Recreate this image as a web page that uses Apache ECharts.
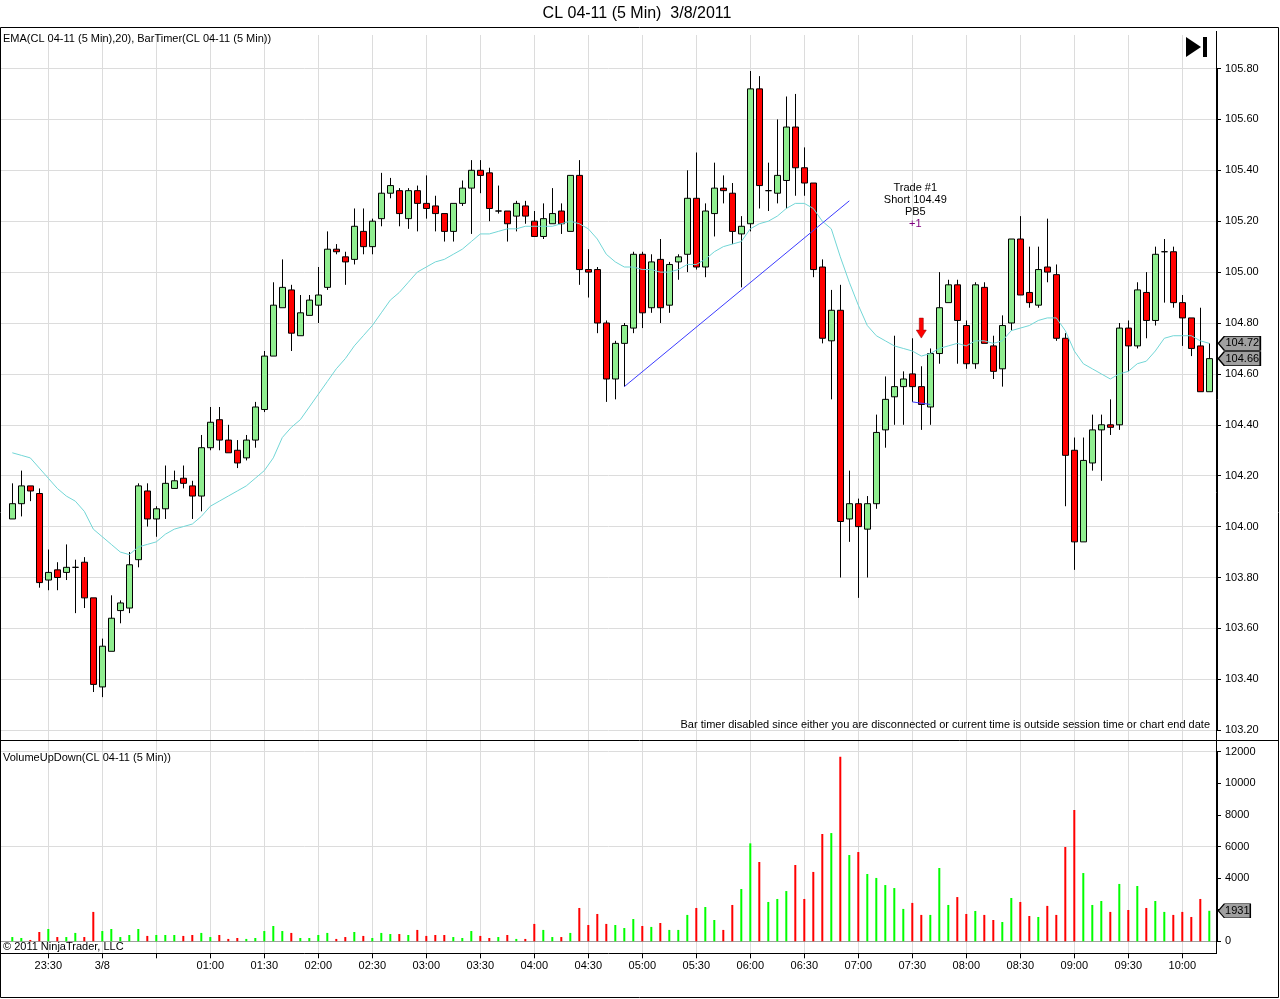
<!DOCTYPE html>
<html>
<head>
<meta charset="utf-8">
<title>CL 04-11 (5 Min) 3/8/2011</title>
<script src="https://cdn.jsdelivr.net/npm/echarts@6/dist/echarts.min.js"></script>
<style>
html, body { margin: 0; padding: 0; background: #fff; }
#chart { width: 1280px; height: 999px; }
</style>
</head>
<body>
<div id="chart"></div>
<script>
// 5 minute bars, 3/8/2011 session
var times = [
  '23:10','23:15','23:20','23:25','23:30','23:35','23:40','23:45','23:50','23:55',
  '00:00','00:05','00:10','00:15','00:20','00:25','00:30','00:35','00:40','00:45','00:50','00:55',
  '01:00','01:05','01:10','01:15','01:20','01:25','01:30','01:35','01:40','01:45','01:50','01:55',
  '02:00','02:05','02:10','02:15','02:20','02:25','02:30','02:35','02:40','02:45','02:50','02:55',
  '03:00','03:05','03:10','03:15','03:20','03:25','03:30','03:35','03:40','03:45','03:50','03:55',
  '04:00','04:05','04:10','04:15','04:20','04:25','04:30','04:35','04:40','04:45','04:50','04:55',
  '05:00','05:05','05:10','05:15','05:20','05:25','05:30','05:35','05:40','05:45','05:50','05:55',
  '06:00','06:05','06:10','06:15','06:20','06:25','06:30','06:35','06:40','06:45','06:50','06:55',
  '07:00','07:05','07:10','07:15','07:20','07:25','07:30','07:35','07:40','07:45','07:50','07:55',
  '08:00','08:05','08:10','08:15','08:20','08:25','08:30','08:35','08:40','08:45','08:50','08:55',
  '09:00','09:05','09:10','09:15','09:20','09:25','09:30','09:35','09:40','09:45','09:50','09:55',
  '10:00','10:05','10:10','10:15'
];

var opens = [
  104.03,104.09,104.16,104.13,103.79,103.83,103.82,103.84,103.86,103.72,
  103.37,103.51,103.67,103.68,103.87,104.14,104.03,104.07,104.15,104.19,
  104.16,104.12,104.31,104.42,104.34,104.30,104.27,104.34,104.46,104.67,
  104.86,104.93,104.75,104.83,104.87,104.94,105.09,105.06,105.05,105.16,
  105.10,105.21,105.31,105.32,105.21,105.32,105.27,105.26,105.23,105.16,
  105.27,105.33,105.40,105.39,105.24,105.24,105.22,105.26,105.20,105.14,
  105.19,105.24,105.16,105.38,105.01,105.01,104.80,104.58,104.72,104.78,
  105.07,104.86,105.05,104.87,105.04,105.07,105.29,105.02,105.23,105.33,
  105.31,105.15,105.19,105.72,105.32,105.31,105.36,105.57,105.41,105.35,
  105.02,104.73,104.85,104.03,104.09,103.99,104.09,104.38,104.51,104.55,
  104.60,104.55,104.47,104.68,104.88,104.95,104.79,104.64,104.94,104.71,
  104.62,104.80,105.13,104.92,104.87,105.02,104.99,104.74,104.30,103.94,
  104.25,104.38,104.40,104.40,104.78,104.71,104.92,104.81,105.08,105.08,
  104.88,104.82,104.71,104.53
];
var highs = [
  104.17,104.22,104.16,104.15,103.91,103.86,103.93,103.87,103.88,103.72,
  103.56,103.73,103.71,103.90,104.17,104.17,104.08,104.24,104.22,104.24,
  104.18,104.36,104.47,104.47,104.40,104.34,104.36,104.49,104.69,104.96,
  105.05,104.95,104.91,104.91,105.02,105.16,105.11,105.08,105.25,105.25,
  105.21,105.39,105.37,105.33,105.33,105.34,105.38,105.30,105.23,105.27,
  105.36,105.44,105.44,105.41,105.34,105.24,105.28,105.28,105.24,105.27,
  105.33,105.27,105.38,105.44,105.09,105.02,104.81,104.73,104.80,105.08,
  105.08,105.07,105.13,105.04,105.07,105.40,105.47,105.27,105.43,105.38,
  105.35,105.22,105.79,105.77,105.43,105.60,105.69,105.70,105.49,105.35,
  105.05,104.93,104.95,104.22,104.11,104.12,104.44,104.59,104.75,104.61,
  104.74,104.63,104.70,105.00,104.97,104.97,104.81,104.96,104.96,104.75,
  104.83,105.13,105.22,105.10,105.10,105.21,105.03,104.76,104.35,104.35,
  104.44,104.44,104.50,104.80,104.81,104.96,105.00,105.10,105.13,105.10,
  104.91,104.82,104.86,104.72
];
var lows = [
  104.03,104.04,104.10,103.76,103.75,103.75,103.79,103.66,103.68,103.35,
  103.33,103.51,103.62,103.66,103.84,104.00,103.96,104.03,104.15,104.15,
  104.03,104.06,104.30,104.30,104.29,104.23,104.26,104.31,104.45,104.67,
  104.86,104.69,104.75,104.83,104.80,104.93,105.07,104.95,105.03,105.07,
  105.07,105.18,105.29,105.18,105.17,105.16,105.21,105.16,105.12,105.12,
  105.26,105.15,105.31,105.20,105.23,105.12,105.16,105.19,105.14,105.13,
  105.19,105.15,105.16,104.95,104.90,104.76,104.49,104.50,104.55,104.76,
  104.78,104.84,104.80,104.84,104.97,105.00,105.01,104.98,105.14,105.27,
  105.11,104.94,105.16,105.25,105.24,105.27,105.25,105.30,105.30,104.98,
  104.72,104.50,103.80,103.94,103.72,103.80,104.07,104.31,104.40,104.40,
  104.49,104.38,104.40,104.64,104.88,104.64,104.62,104.62,104.72,104.58,
  104.55,104.77,104.91,104.86,104.86,104.96,104.73,104.08,103.83,103.94,
  104.22,104.18,104.36,104.38,104.61,104.70,104.74,104.79,104.88,104.86,
  104.71,104.67,104.53,104.53
];
var closes = [
  104.09,104.16,104.14,103.78,103.82,103.80,103.84,103.84,103.72,103.38,
  103.53,103.64,103.70,103.85,104.16,104.03,104.07,104.17,104.18,104.17,
  104.12,104.31,104.41,104.34,104.29,104.25,104.34,104.47,104.67,104.87,
  104.94,104.76,104.84,104.89,104.91,105.09,105.08,105.04,105.18,105.10,
  105.20,105.31,105.34,105.23,105.32,105.27,105.25,105.23,105.16,105.27,
  105.33,105.40,105.38,105.25,105.24,105.19,105.27,105.22,105.14,105.21,
  105.23,105.19,105.38,105.01,105.00,104.80,104.58,104.72,104.79,105.07,
  104.84,105.04,104.86,105.03,105.06,105.29,105.02,105.24,105.33,105.32,
  105.16,105.18,105.72,105.34,105.32,105.38,105.57,105.41,105.35,105.01,
  104.74,104.85,104.02,104.09,104.00,104.09,104.37,104.50,104.55,104.58,
  104.55,104.48,104.68,104.86,104.95,104.81,104.64,104.95,104.72,104.61,
  104.79,105.13,104.91,104.88,105.01,105.00,104.74,104.28,103.94,104.26,
  104.38,104.40,104.39,104.78,104.71,104.93,104.81,105.07,105.08,104.88,
  104.82,104.70,104.53,104.66
];
// EMA(20) as drawn on the chart
var ema20 = [
  104.29,104.28,104.27,104.23,104.19,104.15,104.12,104.10,104.06,103.99,
  103.96,103.93,103.90,103.89,103.92,103.93,103.94,103.97,103.99,104.00,
  104.01,104.04,104.08,104.10,104.12,104.14,104.16,104.19,104.22,104.27,
  104.35,104.39,104.42,104.47,104.52,104.57,104.62,104.66,104.71,104.75,
  104.79,104.84,104.89,104.92,104.96,105.00,105.02,105.04,105.05,105.07,
  105.09,105.12,105.15,105.15,105.16,105.17,105.17,105.18,105.18,105.18,
  105.18,105.19,105.20,105.19,105.17,105.13,105.07,105.04,105.02,105.02,
  105.01,105.01,105.00,105.00,105.01,105.03,105.03,105.05,105.08,105.10,
  105.11,105.12,105.17,105.19,105.20,105.22,105.25,105.27,105.27,105.25,
  105.20,105.17,105.06,104.96,104.87,104.79,104.75,104.73,104.71,104.70,
  104.69,104.67,104.68,104.70,104.71,104.72,104.71,104.73,104.73,104.72,
  104.73,104.77,104.78,104.79,104.81,104.82,104.82,104.77,104.69,104.64,
  104.62,104.60,104.58,104.60,104.61,104.64,104.65,104.69,104.74,104.75,
  104.75,104.75,104.73,104.72
];
var volumes = [
  270,210,85,590,780,270,270,530,270,1860,
  650,780,270,400,780,340,400,400,400,340,
  400,530,270,400,150,210,150,210,650,970,
  650,530,210,210,400,530,150,270,590,340,
  210,530,460,460,400,720,340,400,400,270,
  210,650,340,210,270,400,150,150,1100,720,
  270,270,530,2110,1030,1730,1100,1030,840,1410,
  970,910,1160,720,720,1670,2110,2170,1350,720,
  2300,3310,6200,5020,2490,2680,3180,4830,2680,4390,
  6790,6850,11680,5460,5650,4260,4010,3560,3370,2050,
  2430,1670,1670,4640,2300,2800,1730,1920,1670,1350,
  1220,2740,2490,1600,1540,2240,1670,5970,8310,4320,
  2300,2550,1860,3630,1980,3500,2110,2550,1860,1670,
  1860,1540,2680,1931
];

// axis ranges
var priceRange = [103.2, 105.8], priceStep = 0.2;
var volRange = [0, 12000], volStep = 2000;

// drawing objects / trade markers
var trendLine = [[68, 104.55], [93, 105.28]];
var entryLine = [[100, 104.49], [102, 104.48]];
var shortSignal = [101, 104.78];
var tradeNote = [100, 105.26];

var font = 'Liberation Sans, Arial, sans-serif';
var gridColor = '#dcdcdc';
var last = times.length - 1;

function onHalfHour(idx, val) {
  var m = val.slice(3);
  return m === '00' || m === '30';
}

var candles = times.map(function (t, i) {
  return [opens[i], closes[i], lows[i], highs[i]];
});

var tagPath = 'path://M0,7 L6,0 L42,0 L42,14 L6,14 Z';

var chart = echarts.init(document.getElementById('chart'));
chart.setOption({
  animation: false,
  textStyle: { fontFamily: font },
  grid: [
    { left: 12.3, top: 35, width: 1197, height: 918.3, outerBoundsMode: 'none' },
    { left: 0, top: 68.5, width: 1217, height: 661.7, outerBoundsMode: 'none' },
    { left: 7.8, top: 68.5, width: 1206, height: 661.7, outerBoundsMode: 'none' },
    { left: 0, top: 751.7, width: 1217, height: 189.6, outerBoundsMode: 'none' },
    { left: 7.8, top: 751.7, width: 1206, height: 189.6, outerBoundsMode: 'none' }
  ],
  xAxis: [
    {
      gridIndex: 0, type: 'category', data: times, boundaryGap: false,
      axisLine: { show: false, onZero: false },
      axisTick: { show: true, interval: onHalfHour, length: 5, lineStyle: { color: '#000' } },
      axisLabel: {
        interval: onHalfHour, margin: 7, fontSize: 11, color: '#000',
        formatter: function (v) { return v === '00:00' ? '3/8' : (v === '00:30' ? '' : v); }
      },
      splitLine: { show: true, interval: onHalfHour, lineStyle: { color: gridColor } }
    },
    { gridIndex: 1, type: 'value', min: 0, max: 1, show: false, axisLine: { onZero: false } },
    { gridIndex: 2, type: 'category', data: times, show: false, axisLine: { onZero: false } },
    {
      gridIndex: 3, type: 'value', min: 0, max: 1,
      axisLine: { show: true, onZero: false, lineStyle: { color: '#a0a0a0' } },
      axisTick: { show: false }, axisLabel: { show: false }, splitLine: { show: false }
    },
    { gridIndex: 4, type: 'category', data: times, show: false, axisLine: { onZero: false } }
  ],
  yAxis: [
    { gridIndex: 0, type: 'value', min: 0, max: 1, show: false, axisLine: { onZero: false } },
    {
      gridIndex: 1, type: 'value', position: 'right',
      min: priceRange[0], max: priceRange[1], interval: priceStep,
      axisLine: { show: true, onZero: false, lineStyle: { color: '#000' } },
      axisTick: { show: true, length: 4, lineStyle: { color: '#000' } },
      axisLabel: { fontSize: 11, color: '#000', margin: 8,
        formatter: function (v) { return v.toFixed(2); } },
      splitLine: { show: true, lineStyle: { color: gridColor } }
    },
    { gridIndex: 2, type: 'value', min: priceRange[0], max: priceRange[1], show: false,
      axisLine: { onZero: false } },
    {
      gridIndex: 3, type: 'value', position: 'right',
      min: volRange[0], max: volRange[1], interval: volStep,
      axisLine: { show: true, onZero: false, lineStyle: { color: '#000' } },
      axisTick: { show: true, length: 4, lineStyle: { color: '#000' } },
      axisLabel: { fontSize: 11, color: '#000', margin: 8,
        formatter: function (v) { return String(v); } },
      splitLine: { show: false }
    },
    {
      gridIndex: 3, type: 'value', position: 'right',
      min: volRange[0], max: volRange[1], interval: volStep * 3,
      axisLine: { show: false, onZero: false }, axisTick: { show: false }, axisLabel: { show: false },
      splitLine: { show: true, lineStyle: { color: gridColor } }
    },
    { gridIndex: 4, type: 'value', min: volRange[0], max: volRange[1], show: false,
      axisLine: { onZero: false } }
  ],
  series: [
    {
      type: 'candlestick', xAxisIndex: 2, yAxisIndex: 2, data: candles,
      barWidth: 7,
      itemStyle: { color: '#90ee90', color0: '#ff0000', borderColor: '#000', borderColor0: '#000', borderWidth: 1 },
      markLine: {
        silent: true, symbol: ['none', 'none'], label: { show: false },
        lineStyle: { type: 'solid', width: 1, color: '#3b3bff' },
        data: [
          [{ coord: trendLine[0] }, { coord: trendLine[1] }],
          [{ coord: entryLine[0] }, { coord: entryLine[1] }]
        ]
      },
      markPoint: {
        silent: true,
        data: [
          {
            coord: shortSignal,
            symbol: 'path://M3,0 L7,0 L7,12 L10,12 L5,20 L0,12 L3,12 Z',
            symbolSize: [10, 20],
            itemStyle: { color: '#ff0000', borderColor: '#900000', borderWidth: 0.5 },
            label: { show: false }
          },
          {
            coord: tradeNote, symbol: 'rect', symbolSize: [1, 1],
            itemStyle: { color: 'rgba(0,0,0,0)' },
            label: {
              show: true, position: 'inside', offset: [3, 0],
              formatter: '{a|Trade #1}\n{a|Short 104.49}\n{a|PB5}\n{b|+1}',
              rich: {
                a: { color: '#000', fontSize: 11, lineHeight: 12, align: 'center', fontFamily: font },
                b: { color: '#800080', fontSize: 11, lineHeight: 12, align: 'center', fontFamily: font }
              }
            }
          },
          {
            coord: [last, closes[last]], value: closes[last],
            symbol: tagPath, symbolSize: [42, 14], symbolOffset: [30, 0], symbolKeepAspect: false,
            itemStyle: { color: '#a0a0a0', borderColor: '#000', borderWidth: 1 },
            label: { show: true, position: 'inside', offset: [3, 0], color: '#000', fontSize: 11,
              formatter: function (p) { return p.value.toFixed(2); } }
          }
        ]
      }
    },
    {
      type: 'line', xAxisIndex: 2, yAxisIndex: 2, data: ema20,
      symbol: 'none', lineStyle: { color: '#72d6d6', width: 1 },
      markPoint: {
        silent: true,
        data: [{
          coord: [last, ema20[last]], value: ema20[last],
          symbol: tagPath, symbolSize: [42, 14], symbolOffset: [30, 0], symbolKeepAspect: false,
          itemStyle: { color: '#a0a0a0', borderColor: '#000', borderWidth: 1 },
          label: { show: true, position: 'inside', offset: [3, 0], color: '#000', fontSize: 11,
            formatter: function (p) { return p.value.toFixed(2); } }
        }]
      }
    },
    {
      type: 'bar', xAxisIndex: 4, yAxisIndex: 5, data: volumes, barWidth: 2,
      itemStyle: {
        color: function (p) { return closes[p.dataIndex] >= opens[p.dataIndex] ? '#00ff00' : '#ff0000'; }
      },
      markPoint: {
        silent: true,
        data: [{
          coord: [last, volumes[last]], value: volumes[last],
          symbol: 'path://M0,7 L6,0 L32,0 L32,14 L6,14 Z', symbolSize: [32, 14], symbolOffset: [25, 0],
          symbolKeepAspect: false,
          itemStyle: { color: '#a0a0a0', borderColor: '#000', borderWidth: 1 },
          label: { show: true, position: 'inside', offset: [3, 0], color: '#000', fontSize: 11,
            formatter: function (p) { return String(p.value); } }
        }]
      }
    }
  ],
  graphic: [
    { type: 'text', z: 100, style: { text: 'CL 04-11 (5 Min)  3/8/2011', x: 637, y: 14,
      align: 'center', verticalAlign: 'middle', font: '16px ' + font, fill: '#000' } },
    { type: 'rect', z: 100, shape: { x: 0.5, y: 27.5, width: 1278, height: 970 },
      style: { fill: 'none', stroke: '#000', lineWidth: 1 } },
    { type: 'line', z: 100, shape: { x1: 0, y1: 740.5, x2: 1279, y2: 740.5 },
      style: { stroke: '#000', lineWidth: 1 } },
    { type: 'line', z: 100, shape: { x1: 1216.5, y1: 31, x2: 1216.5, y2: 953.5 },
      style: { stroke: '#000', lineWidth: 1 } },
    { type: 'line', z: 100, shape: { x1: 0, y1: 953.5, x2: 1217, y2: 953.5 },
      style: { stroke: '#000', lineWidth: 1 } },
    { type: 'polygon', z: 100, shape: { points: [[1186, 37], [1201, 47], [1186, 57]] },
      style: { fill: '#000' } },
    { type: 'rect', z: 100, shape: { x: 1203, y: 37, width: 4, height: 20 }, style: { fill: '#000' } },
    { type: 'text', z: 100, style: { text: 'EMA(CL 04-11 (5 Min),20), BarTimer(CL 04-11 (5 Min))',
      x: 3, y: 39, verticalAlign: 'middle', font: '11px ' + font, fill: '#000' } },
    { type: 'text', z: 100, style: { text: 'VolumeUpDown(CL 04-11 (5 Min))',
      x: 3, y: 758, verticalAlign: 'middle', font: '11px ' + font, fill: '#000' } },
    { type: 'text', z: 100, style: { text: '\u00a9 2011 NinjaTrader, LLC',
      x: 3, y: 947, verticalAlign: 'middle', font: '11px ' + font, fill: '#000' } },
    { type: 'text', z: 100, style: {
      text: 'Bar timer disabled since either you are disconnected or current time is outside session time or chart end date',
      x: 1210, y: 725, align: 'right', verticalAlign: 'middle', font: '11px ' + font, fill: '#000' } }
  ]
});
</script>
</body>
</html>
